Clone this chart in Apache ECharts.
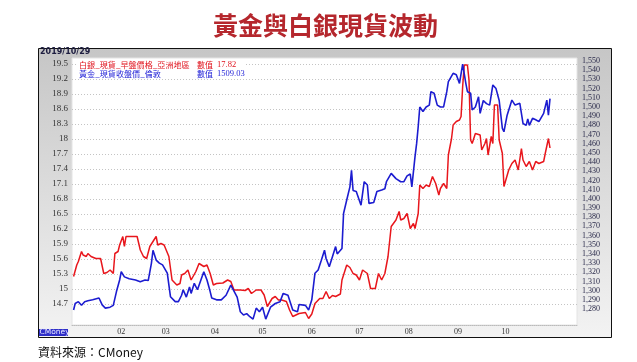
<!DOCTYPE html>
<html><head><meta charset="utf-8">
<script src="https://cdn.jsdelivr.net/npm/echarts@6/dist/echarts.min.js"></script>
<style>html,body{margin:0;padding:0;background:#fff}#c{width:637px;height:362px}</style>
</head><body><div id="c"></div>
<script>
const year = '2019';
const silverDates = ['01-02','01-04','01-05','01-07','01-08','01-10','01-11','01-12','01-13','01-16','01-19','01-21','01-23','01-25','01-27','01-28','01-30','01-31',
'02-02','02-03','02-04','02-07','02-11','02-13','02-15','02-17','02-19','02-21','02-23','02-24','02-26','02-28',
'03-03','03-05','03-08','03-10','03-11','03-13','03-15','03-17','03-18','03-20','03-22','03-25','03-27','03-29','03-31',
'04-02','04-06','04-09','04-11','04-13','04-17','04-20','04-22','04-24','04-27','04-30',
'05-02','05-04','05-07','05-09','05-11','05-13','05-16','05-18','05-20','05-24','05-28','05-30',
'06-01','06-03','06-06','06-08','06-10','06-12','06-14','06-16','06-19','06-20','06-23','06-25','06-27','06-29',
'07-01','07-03','07-06','07-08','07-11','07-13','07-15','07-17','07-19','07-21','07-22','07-24','07-26','07-27','07-29','07-31',
'08-02','08-04','08-05','08-07','08-08','08-10','08-12','08-14','08-16','08-18','08-20','08-21','08-23','08-25','08-26','08-28','08-29','08-31',
'09-02','09-03','09-04','09-05','09-07','09-08','09-09','09-10','09-12','09-15','09-16','09-18','09-19','09-20','09-22','09-23','09-24','09-26','09-27','09-29','09-30',
'10-01','10-03','10-05','10-07','10-09','10-11','10-12','10-14','10-16','10-18','10-20','10-22','10-25','10-26','10-28','10-29'];
const silverValues = [15.25,15.48,15.55,15.75,15.68,15.65,15.71,15.73,15.65,15.61,15.61,15.31,15.33,15.38,15.31,15.71,15.75,15.88,
16.05,15.85,16.05,16.05,16.05,15.78,15.65,15.61,15.85,15.95,16.05,15.88,15.91,15.88,
15.65,15.18,15.08,15.11,15.28,15.31,15.38,15.18,15.22,15.35,15.51,15.45,15.48,15.31,15.08,
15.11,15.12,15.18,15.15,14.98,14.98,14.97,15.01,14.91,14.98,14.98,
14.88,14.65,14.81,14.85,14.78,14.78,14.75,14.58,14.45,14.51,14.53,14.41,
14.50,14.71,14.81,14.81,14.95,14.81,14.87,14.85,14.90,15.18,15.48,15.43,15.31,15.28,
15.18,15.38,15.31,15.01,15.01,15.31,15.18,15.31,15.65,16.25,16.28,16.38,16.55,16.38,16.41,16.51,
16.21,16.31,16.21,16.51,17.08,17.01,17.08,17.05,17.25,17.11,16.88,17.01,17.11,17.01,17.68,18.01,18.28,18.35,
18.38,18.45,19.05,19.48,19.48,19.18,17.98,17.91,18.11,18.08,17.78,17.91,18.01,17.68,18.05,17.91,18.68,18.68,17.98,17.71,17.05,
17.05,17.38,17.51,17.58,17.38,17.81,17.58,17.45,17.55,17.38,17.55,17.51,17.55,17.71,18.01,17.82];
const goldDates = ['01-02','01-03','01-05','01-07','01-09','01-11','01-14','01-18','01-20','01-22','01-25','01-27','01-29','01-31',
'02-01','02-03','02-06','02-10','02-13','02-16','02-18','02-20','02-21','02-23','02-25','02-27',
'03-02','03-04','03-07','03-09','03-11','03-12','03-14','03-16','03-17','03-19','03-21','03-25','03-27','03-29','03-30',
'04-02','04-05','04-08','04-11','04-12','04-15','04-17','04-19','04-21','04-23','04-25','04-27','04-29',
'05-01','05-03','05-06','05-09','05-12','05-14','05-17','05-20','05-23','05-24','05-28','05-30',
'06-01','06-03','06-05','06-07','06-09','06-10','06-12','06-14','06-16','06-17','06-20','06-21','06-23','06-25','06-26','06-27','06-29','06-30',
'07-02','07-04','07-06','07-07','07-10','07-12','07-15','07-17','07-18','07-21','07-24','07-27','07-29','07-31',
'08-02','08-03','08-05','08-06','08-07','08-08','08-10','08-12','08-14','08-15','08-17','08-19','08-21','08-23','08-25','08-26','08-29','08-31',
'09-02','09-04','09-05','09-06','09-07','09-09','09-10','09-12','09-14','09-15','09-17','09-19','09-21','09-23','09-25','09-27','09-29','09-30',
'10-02','10-05','10-07','10-10','10-12','10-14','10-15','10-16','10-18','10-20','10-22','10-25','10-27','10-28','10-29'];
const goldValues = [1279,1286,1288,1284,1288,1289,1290,1292,1284.5,1281,1282,1284,1299,1311.6,
1320.6,1315,1313,1311.6,1309.7,1311.6,1311,1329.8,1344,1333.3,1330,1328,
1319,1293.4,1288,1288,1295,1301,1293,1304,1297,1308,1301,1320.6,1311.6,1299,1292,
1290,1290,1295,1306,1308,1293,1277,1273.5,1275,1271.6,1269,1281,1277,
1282,1269,1282,1286,1288,1297,1295,1279,1277,1285,1284,1279,
1290,1319,1322.5,1333,1344,1335,1326,1337,1348,1340,1346,1384,1398.7,1413,1431,1409,1408,1409,
1393,1418.6,1415,1395,1396,1408,1409.6,1411,1418.6,1427.7,1422,1418.6,1418.6,1425,
1427,1413,1446,1460,1478.5,1500,1495,1500,1502,1516.6,1515,1502,1500,1500,1516.6,1527.5,1536.6,1535,
1525.7,1546.7,1545,1525.7,1516.6,1515,1496.7,1500,1511,1493,1507,1503.6,1502,1524,1520,1507,1476.7,1473,
1491,1507.5,1502,1504,1482,1480,1487,1480,1487.6,1486,1484,1493,1507.5,1491,1509];
const silverTicks = [14.7,15,15.3,15.6,15.9,16.2,16.5,16.8,17.1,17.4,17.7,18,18.3,18.6,18.9,19.2,19.5];
const goldTicks = [1280,1290,1300,1310,1320,1330,1340,1350,1360,1370,1380,1390,1400,1410,1420,1430,1440,1450,1460,1470,1480,1490,1500,1510,1520,1530,1540,1550];
const monthTicks = ['02-01','03-01','04-01','05-01','06-01','07-01','08-01','09-01','10-01'];
const monthLabels = ['02','03','04','05','06','07','08','09','10'];
const silverName = '白銀_現貨_早盤價格_亞洲地區';
const goldName = '黃金_現貨收盤價_倫敦';
const silverLast = '17.82';
const goldLast = '1509.03';
const headerDate = '2019/10/29';

const ts = s => +new Date(year + '-' + s + 'T00:00:00');
const monthTs = monthTicks.map(ts);
const chart = echarts.init(document.getElementById('c'), null, {renderer: 'canvas'});
const serif = '"Liberation Serif","DejaVu Serif",serif';
const cjk = '"Noto Sans CJK TC","Noto Sans CJK SC",sans-serif';
chart.setOption({
  animation: false,
  backgroundColor: '#fff',
  title: {
    text: '黃金與白銀現貨波動', left: 208, top: 8,
    textStyle: {fontFamily: cjk, fontSize: 25, fontWeight: 'bold', color: '#b5272d'}
  },
  grid: {left: 72, right: 60, top: 58, bottom: 37, show: true, backgroundColor: '#fff', borderColor: '#e4e4e4', borderWidth: 1},
  xAxis: {
    type: 'value', min: ts('01-01'), max: ts('11-15'),
    axisLine: {show: true, lineStyle: {color: '#bbb', type: 'dotted'}},
    axisTick: {show: false, customValues: monthTs},
    splitLine: {show: false},
    axisLabel: {
      customValues: monthTs, margin: 3, fontSize: 8, fontFamily: serif, color: '#333',
      formatter: v => { const i = monthTs.indexOf(v); return i >= 0 ? monthLabels[i] : ''; }
    }
  },
  yAxis: [{
    type: 'value', position: 'left', min: 14.28, max: 19.62,
    axisLine: {show: false},
    axisTick: {show: false, customValues: silverTicks},
    axisLabel: {customValues: silverTicks, margin: 4, fontSize: 9, fontFamily: serif, color: '#333'},
    splitLine: {show: true, lineStyle: {color: '#c4c4c4', type: [1, 2], width: 1}}
  }, {
    type: 'value', position: 'right', min: 1262.6, max: 1553.3,
    axisLine: {show: false},
    axisTick: {show: false, customValues: goldTicks},
    axisLabel: {customValues: goldTicks, margin: 5, fontSize: 8, fontFamily: serif, color: '#2a2a4a'},
    splitLine: {show: false}
  }],
  series: [{
    name: silverName, type: 'line', yAxisIndex: 0, symbol: 'none', z: 3,
    lineStyle: {color: '#e8161c', width: 1.5}, itemStyle: {color: '#e8161c'},
    data: silverDates.map((d, i) => [ts(d), silverValues[i]])
  }, {
    name: goldName, type: 'line', yAxisIndex: 1, symbol: 'none', z: 4,
    lineStyle: {color: '#1c1cd0', width: 1.6}, itemStyle: {color: '#1c1cd0'},
    data: goldDates.map((d, i) => [ts(d), goldValues[i]])
  }],
  graphic: [
    {type: 'rect', z: -10, silent: true, shape: {x: 38.5, y: 48.5, width: 573, height: 289},
      style: {fill: {type: 'linear', x: 0, y: 0, x2: 0, y2: 1, colorStops: [{offset: 0, color: '#c6c6c6'}, {offset: 1, color: '#f3f3f3'}]}, stroke: '#111', lineWidth: 1}},
    {type: 'text', z: 10, left: 40, top: 48, style: {text: headerDate, fontSize: 8, fontWeight: 'bold', fontFamily: '"DejaVu Sans",sans-serif', fill: '#1d1d40'}},
    {type: 'rect', z: 10, silent: true, shape: {x: 76, y: 59, width: 170, height: 19}, style: {fill: '#fff'}},
    {type: 'text', z: 11, x: 79, y: 64.5, style: {text: silverName, fontSize: 8.1, fontFamily: cjk, fill: '#e0141e', verticalAlign: 'middle'}},
    {type: 'text', z: 11, x: 197, y: 64.5, style: {text: '數值', fontSize: 8.1, fontFamily: cjk, fill: '#e0141e', verticalAlign: 'middle'}},
    {type: 'text', z: 11, x: 217, y: 64.5, style: {text: silverLast, fontSize: 8.5, fontFamily: serif, fill: '#e0141e', verticalAlign: 'middle'}},
    {type: 'text', z: 11, x: 79, y: 73.5, style: {text: goldName, fontSize: 8.1, fontFamily: cjk, fill: '#2828d8', verticalAlign: 'middle'}},
    {type: 'text', z: 11, x: 197, y: 73.5, style: {text: '數值', fontSize: 8.1, fontFamily: cjk, fill: '#2828d8', verticalAlign: 'middle'}},
    {type: 'text', z: 11, x: 217, y: 73.5, style: {text: goldLast, fontSize: 8.5, fontFamily: serif, fill: '#2828d8', verticalAlign: 'middle'}},
    {type: 'rect', z: 10, silent: true, shape: {x: 39, y: 329, width: 29, height: 7}, style: {fill: '#2f2fc8'}},
    {type: 'text', z: 11, x: 39.5, y: 332.5, style: {text: 'CMoney', fontSize: 7.5, fontFamily: '"DejaVu Sans",sans-serif', fill: '#e6e6ff', verticalAlign: 'middle'}},
    {type: 'text', z: 11, x: 38, y: 352, style: {text: '資料來源：CMoney', fontSize: 12, fontFamily: cjk, fill: '#111', verticalAlign: 'middle'}}
  ]
});
</script></body></html>
